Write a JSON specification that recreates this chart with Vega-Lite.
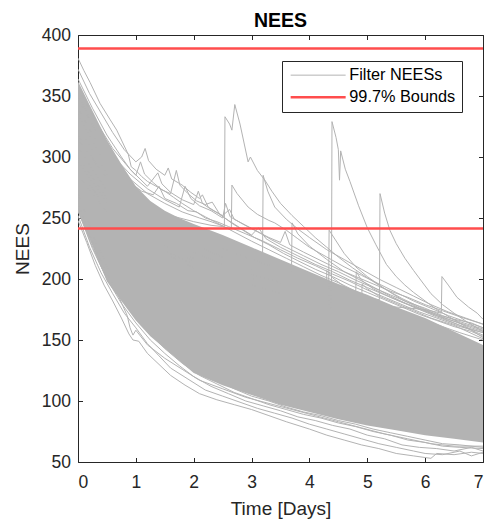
{
"$schema":"https://vega.github.io/schema/vega-lite/v6.json",
"width":405,"height":427,
"autosize":{"type":"none"},
"padding":{"left":78,"top":35,"right":3,"bottom":57},
"background":"white",
"title":{"text":"NEES","fontSize":19.5,"fontWeight":"bold","font":"Liberation Sans","color":"#000000","offset":-5,"frame":"group"},
"config":{"view":{"stroke":null},"font":"Liberation Sans",
 "axis":{"grid":false,"domainColor":"#262626","domainWidth":1,"tickColor":"#262626","tickWidth":1,"tickSize":-4.5,"labelFont":"Liberation Sans","labelFontSize":17.5,"labelColor":"#262626","titleFont":"Liberation Sans","titleFontSize":19,"titleFontWeight":"normal","titleColor":"#262626"}},
"datasets":{
"core":[
{"t":0,"lo":255,"hi":362},{"t":0.25,"lo":227,"hi":338},{"t":0.5,"lo":198,"hi":314},{"t":0.75,"lo":182,"hi":294},{"t":1,"lo":166,"hi":276},{"t":1.25,"lo":153,"hi":264},{"t":1.5,"lo":143,"hi":256},{"t":1.75,"lo":133,"hi":250},{"t":2,"lo":123,"hi":245},{"t":2.5,"lo":113,"hi":236},{"t":3,"lo":105,"hi":226},{"t":3.5,"lo":97,"hi":216},{"t":4,"lo":91,"hi":206},{"t":4.5,"lo":85,"hi":196},{"t":5,"lo":80,"hi":187},{"t":5.5,"lo":76,"hi":177},{"t":6,"lo":72,"hi":168},{"t":6.5,"lo":69,"hi":157},{"t":7,"lo":66,"hi":146}],
"bounds":[{"series":"99.7% Bounds","v":388.9},{"series":"99.7% Bounds","v":241.3}],
"runs":[
{"r":"U1","t":0,"v":381},{"r":"U1","t":0.1,"v":371},{"r":"U1","t":0.21,"v":361},{"r":"U1","t":0.38,"v":344},{"r":"U1","t":0.55,"v":331},{"r":"U1","t":0.67,"v":322},{"r":"U1","t":0.8,"v":309},{"r":"U1","t":0.87,"v":302},{"r":"U1","t":0.92,"v":292},{"r":"U1","t":1,"v":289},{"r":"U1","t":1.1,"v":284},{"r":"U1","t":1.2,"v":280},{"r":"U1","t":1.35,"v":276},{"r":"U1","t":1.5,"v":272},{"r":"U1","t":1.65,"v":267},{"r":"U1","t":1.8,"v":262},{"r":"U1","t":2,"v":256},{"r":"U1","t":2.2,"v":251},{"r":"U1","t":2.4,"v":246},{"r":"U1","t":2.6,"v":241},{"r":"U1","t":2.8,"v":236},{"r":"U1","t":3,"v":231},{"r":"U1","t":3.3,"v":224},{"r":"U1","t":3.6,"v":217},{"r":"U1","t":3.9,"v":210},{"r":"U1","t":4.2,"v":203},{"r":"U1","t":4.5,"v":197},{"r":"U1","t":4.8,"v":190},{"r":"U1","t":5.1,"v":184},{"r":"U1","t":5.4,"v":178},{"r":"U1","t":5.7,"v":172},{"r":"U1","t":6,"v":166},{"r":"U1","t":6.3,"v":161},{"r":"U1","t":6.6,"v":156},{"r":"U1","t":7,"v":150},
{"r":"U2","t":0,"v":372},{"r":"U2","t":0.2,"v":352},{"r":"U2","t":0.4,"v":336},{"r":"U2","t":0.6,"v":320},{"r":"U2","t":0.8,"v":306},{"r":"U2","t":1,"v":296},{"r":"U2","t":1.1,"v":300},{"r":"U2","t":1.16,"v":307},{"r":"U2","t":1.22,"v":297},{"r":"U2","t":1.35,"v":290},{"r":"U2","t":1.5,"v":285},{"r":"U2","t":1.56,"v":291},{"r":"U2","t":1.62,"v":282},{"r":"U2","t":1.8,"v":277},{"r":"U2","t":1.95,"v":271},{"r":"U2","t":2.1,"v":266},{"r":"U2","t":2.15,"v":269},{"r":"U2","t":2.25,"v":259},{"r":"U2","t":2.45,"v":253},{"r":"U2","t":2.65,"v":246},{"r":"U2","t":2.85,"v":240},{"r":"U2","t":3.05,"v":234},{"r":"U2","t":3.3,"v":228},{"r":"U2","t":3.55,"v":221},{"r":"U2","t":3.8,"v":215},{"r":"U2","t":4.1,"v":208},{"r":"U2","t":4.4,"v":202},{"r":"U2","t":4.7,"v":195},{"r":"U2","t":5,"v":189},{"r":"U2","t":5.3,"v":183},{"r":"U2","t":5.6,"v":177},{"r":"U2","t":5.9,"v":171},{"r":"U2","t":6.2,"v":166},{"r":"U2","t":6.5,"v":161},{"r":"U2","t":6.8,"v":157},{"r":"U2","t":7,"v":153},
{"r":"U3","t":0,"v":364},{"r":"U3","t":0.25,"v":340},{"r":"U3","t":0.5,"v":318},{"r":"U3","t":0.75,"v":300},{"r":"U3","t":0.9,"v":290},{"r":"U3","t":1,"v":285},{"r":"U3","t":1.08,"v":296},{"r":"U3","t":1.15,"v":286},{"r":"U3","t":1.3,"v":279},{"r":"U3","t":1.45,"v":273},{"r":"U3","t":1.6,"v":270},{"r":"U3","t":1.7,"v":289},{"r":"U3","t":1.76,"v":277},{"r":"U3","t":1.9,"v":270},{"r":"U3","t":2.05,"v":264},{"r":"U3","t":2.2,"v":261},{"r":"U3","t":2.32,"v":263},{"r":"U3","t":2.45,"v":253},{"r":"U3","t":2.6,"v":248},{"r":"U3","t":2.8,"v":242},{"r":"U3","t":3,"v":236},{"r":"U3","t":3.12,"v":242},{"r":"U3","t":3.25,"v":233},{"r":"U3","t":3.5,"v":226},{"r":"U3","t":3.8,"v":219},{"r":"U3","t":4.1,"v":212},{"r":"U3","t":4.4,"v":206},{"r":"U3","t":4.7,"v":199},{"r":"U3","t":5,"v":193},{"r":"U3","t":5.3,"v":187},{"r":"U3","t":5.6,"v":181},{"r":"U3","t":5.9,"v":176},{"r":"U3","t":6.2,"v":171},{"r":"U3","t":6.5,"v":167},{"r":"U3","t":6.8,"v":164},{"r":"U3","t":7,"v":160},
{"r":"U4","t":0,"v":356},{"r":"U4","t":0.3,"v":330},{"r":"U4","t":0.6,"v":307},{"r":"U4","t":0.9,"v":290},{"r":"U4","t":1.2,"v":276},{"r":"U4","t":1.38,"v":287},{"r":"U4","t":1.45,"v":278},{"r":"U4","t":1.6,"v":271},{"r":"U4","t":1.8,"v":265},{"r":"U4","t":2,"v":261},{"r":"U4","t":2.08,"v":272},{"r":"U4","t":2.15,"v":262},{"r":"U4","t":2.3,"v":257},{"r":"U4","t":2.5,"v":252},{"r":"U4","t":2.62,"v":257},{"r":"U4","t":2.7,"v":249},{"r":"U4","t":2.9,"v":244},{"r":"U4","t":3.1,"v":239},{"r":"U4","t":3.35,"v":232},{"r":"U4","t":3.6,"v":226},{"r":"U4","t":3.9,"v":219},{"r":"U4","t":4.2,"v":212},{"r":"U4","t":4.5,"v":206},{"r":"U4","t":4.8,"v":199},{"r":"U4","t":5.1,"v":193},{"r":"U4","t":5.4,"v":187},{"r":"U4","t":5.7,"v":181},{"r":"U4","t":6,"v":176},{"r":"U4","t":6.3,"v":170},{"r":"U4","t":6.6,"v":165},{"r":"U4","t":7,"v":159},
{"r":"U5","t":0,"v":348},{"r":"U5","t":0.3,"v":322},{"r":"U5","t":0.6,"v":301},{"r":"U5","t":0.9,"v":286},{"r":"U5","t":1.2,"v":274},{"r":"U5","t":1.5,"v":265},{"r":"U5","t":1.75,"v":259},{"r":"U5","t":1.85,"v":276},{"r":"U5","t":1.95,"v":266},{"r":"U5","t":2.1,"v":260},{"r":"U5","t":2.3,"v":256},{"r":"U5","t":2.5,"v":250},{"r":"U5","t":2.55,"v":262},{"r":"U5","t":2.63,"v":251},{"r":"U5","t":2.85,"v":245},{"r":"U5","t":3.05,"v":240},{"r":"U5","t":3.3,"v":234},{"r":"U5","t":3.5,"v":230},{"r":"U5","t":3.58,"v":239},{"r":"U5","t":3.66,"v":228},{"r":"U5","t":3.9,"v":222},{"r":"U5","t":4.2,"v":215},{"r":"U5","t":4.5,"v":208},{"r":"U5","t":4.8,"v":202},{"r":"U5","t":5.1,"v":196},{"r":"U5","t":5.4,"v":190},{"r":"U5","t":5.7,"v":185},{"r":"U5","t":6,"v":179},{"r":"U5","t":6.3,"v":174},{"r":"U5","t":6.6,"v":169},{"r":"U5","t":7,"v":163},
{"r":"U6","t":0,"v":340},{"r":"U6","t":0.3,"v":314},{"r":"U6","t":0.6,"v":293},{"r":"U6","t":0.9,"v":279},{"r":"U6","t":1.1,"v":272},{"r":"U6","t":1.3,"v":269},{"r":"U6","t":1.4,"v":276},{"r":"U6","t":1.5,"v":266},{"r":"U6","t":1.7,"v":262},{"r":"U6","t":1.9,"v":256},{"r":"U6","t":2.05,"v":255},{"r":"U6","t":2.2,"v":250},{"r":"U6","t":2.4,"v":247},{"r":"U6","t":2.6,"v":243},{"r":"U6","t":2.9,"v":237},{"r":"U6","t":3.2,"v":231},{"r":"U6","t":3.5,"v":224},{"r":"U6","t":3.8,"v":217},{"r":"U6","t":4.1,"v":211},{"r":"U6","t":4.4,"v":204},{"r":"U6","t":4.7,"v":198},{"r":"U6","t":5,"v":191},{"r":"U6","t":5.3,"v":185},{"r":"U6","t":5.6,"v":179},{"r":"U6","t":5.9,"v":173},{"r":"U6","t":6.2,"v":168},{"r":"U6","t":6.6,"v":161},{"r":"U6","t":7,"v":156},
{"r":"SA","t":0,"v":352},{"r":"SA","t":0.3,"v":322},{"r":"SA","t":0.6,"v":299},{"r":"SA","t":0.9,"v":282},{"r":"SA","t":1.2,"v":270},{"r":"SA","t":1.5,"v":262},{"r":"SA","t":1.8,"v":255},{"r":"SA","t":2.1,"v":250},{"r":"SA","t":2.3,"v":247},{"r":"SA","t":2.53,"v":243},{"r":"SA","t":2.54,"v":333},{"r":"SA","t":2.62,"v":327},{"r":"SA","t":2.66,"v":322},{"r":"SA","t":2.71,"v":343},{"r":"SA","t":2.8,"v":327},{"r":"SA","t":2.94,"v":296},{"r":"SA","t":2.98,"v":300},{"r":"SA","t":3.1,"v":289},{"r":"SA","t":3.23,"v":281},{"r":"SA","t":3.35,"v":272},{"r":"SA","t":3.5,"v":262},{"r":"SA","t":3.7,"v":252},{"r":"SA","t":3.9,"v":243},{"r":"SA","t":4.1,"v":234},{"r":"SA","t":4.3,"v":226},{"r":"SA","t":4.5,"v":218},{"r":"SA","t":4.75,"v":209},{"r":"SA","t":5,"v":201},{"r":"SA","t":5.3,"v":192},{"r":"SA","t":5.6,"v":184},{"r":"SA","t":6,"v":175},{"r":"SA","t":6.4,"v":167},{"r":"SA","t":6.8,"v":160},{"r":"SA","t":7,"v":157},
{"r":"SB","t":0,"v":335},{"r":"SB","t":0.4,"v":300},{"r":"SB","t":0.8,"v":277},{"r":"SB","t":1.2,"v":262},{"r":"SB","t":1.6,"v":252},{"r":"SB","t":2,"v":247},{"r":"SB","t":2.3,"v":244},{"r":"SB","t":2.5,"v":243},{"r":"SB","t":2.65,"v":241},{"r":"SB","t":2.66,"v":277},{"r":"SB","t":2.75,"v":270},{"r":"SB","t":2.94,"v":259},{"r":"SB","t":3.1,"v":253},{"r":"SB","t":3.3,"v":248},{"r":"SB","t":3.4,"v":246},{"r":"SB","t":3.6,"v":240},{"r":"SB","t":3.8,"v":233},{"r":"SB","t":4,"v":226},{"r":"SB","t":4.3,"v":218},{"r":"SB","t":4.6,"v":210},{"r":"SB","t":4.9,"v":203},{"r":"SB","t":5.2,"v":196},{"r":"SB","t":5.5,"v":189},{"r":"SB","t":5.8,"v":182},{"r":"SB","t":6.1,"v":176},{"r":"SB","t":6.4,"v":170},{"r":"SB","t":6.7,"v":165},{"r":"SB","t":7,"v":160},
{"r":"SC","t":0,"v":325},{"r":"SC","t":0.5,"v":286},{"r":"SC","t":1,"v":262},{"r":"SC","t":1.5,"v":246},{"r":"SC","t":2,"v":237},{"r":"SC","t":2.5,"v":229},{"r":"SC","t":2.9,"v":223},{"r":"SC","t":3.19,"v":221},{"r":"SC","t":3.2,"v":285},{"r":"SC","t":3.28,"v":272},{"r":"SC","t":3.4,"v":259},{"r":"SC","t":3.6,"v":249},{"r":"SC","t":3.8,"v":241},{"r":"SC","t":4,"v":234},{"r":"SC","t":4.3,"v":224},{"r":"SC","t":4.6,"v":216},{"r":"SC","t":4.9,"v":208},{"r":"SC","t":5.2,"v":200},{"r":"SC","t":5.5,"v":193},{"r":"SC","t":5.8,"v":186},{"r":"SC","t":6.1,"v":179},{"r":"SC","t":6.4,"v":173},{"r":"SC","t":6.7,"v":168},{"r":"SC","t":7,"v":163},
{"r":"SD","t":0,"v":318},{"r":"SD","t":0.5,"v":280},{"r":"SD","t":1,"v":256},{"r":"SD","t":1.5,"v":240},{"r":"SD","t":2,"v":228},{"r":"SD","t":2.5,"v":218},{"r":"SD","t":3,"v":208},{"r":"SD","t":3.5,"v":198},{"r":"SD","t":4,"v":188},{"r":"SD","t":4.2,"v":182},{"r":"SD","t":4.38,"v":176},{"r":"SD","t":4.39,"v":329},{"r":"SD","t":4.46,"v":316},{"r":"SD","t":4.5,"v":306},{"r":"SD","t":4.52,"v":281},{"r":"SD","t":4.54,"v":305},{"r":"SD","t":4.62,"v":290},{"r":"SD","t":4.7,"v":280},{"r":"SD","t":4.85,"v":260},{"r":"SD","t":5,"v":242},{"r":"SD","t":5.15,"v":228},{"r":"SD","t":5.33,"v":212},{"r":"SD","t":5.5,"v":202},{"r":"SD","t":5.65,"v":195},{"r":"SD","t":5.8,"v":189},{"r":"SD","t":6,"v":182},{"r":"SD","t":6.2,"v":175},{"r":"SD","t":6.45,"v":168},{"r":"SD","t":6.7,"v":161},{"r":"SD","t":7,"v":152},
{"r":"SE","t":0,"v":300},{"r":"SE","t":0.5,"v":266},{"r":"SE","t":1,"v":244},{"r":"SE","t":1.5,"v":229},{"r":"SE","t":2,"v":217},{"r":"SE","t":2.5,"v":208},{"r":"SE","t":3,"v":200},{"r":"SE","t":3.5,"v":194},{"r":"SE","t":4,"v":190},{"r":"SE","t":4.5,"v":187},{"r":"SE","t":4.9,"v":185},{"r":"SE","t":5.21,"v":183},{"r":"SE","t":5.22,"v":270},{"r":"SE","t":5.3,"v":254},{"r":"SE","t":5.39,"v":240},{"r":"SE","t":5.5,"v":229},{"r":"SE","t":5.65,"v":217},{"r":"SE","t":5.8,"v":207},{"r":"SE","t":5.91,"v":200},{"r":"SE","t":6.1,"v":188},{"r":"SE","t":6.3,"v":179},{"r":"SE","t":6.5,"v":172},{"r":"SE","t":6.75,"v":164},{"r":"SE","t":7,"v":157},
{"r":"SF","t":0,"v":308},{"r":"SF","t":0.5,"v":272},{"r":"SF","t":1,"v":250},{"r":"SF","t":1.5,"v":234},{"r":"SF","t":2,"v":222},{"r":"SF","t":2.5,"v":212},{"r":"SF","t":3,"v":204},{"r":"SF","t":3.5,"v":197},{"r":"SF","t":4,"v":191},{"r":"SF","t":4.5,"v":185},{"r":"SF","t":5,"v":180},{"r":"SF","t":5.5,"v":177},{"r":"SF","t":6,"v":175},{"r":"SF","t":6.28,"v":172},{"r":"SF","t":6.29,"v":202},{"r":"SF","t":6.4,"v":195},{"r":"SF","t":6.55,"v":185},{"r":"SF","t":6.75,"v":177},{"r":"SF","t":6.9,"v":172},{"r":"SF","t":7,"v":167},
{"r":"SG","t":0,"v":296},{"r":"SG","t":0.5,"v":263},{"r":"SG","t":1,"v":242},{"r":"SG","t":1.5,"v":227},{"r":"SG","t":2,"v":215},{"r":"SG","t":2.5,"v":205},{"r":"SG","t":3,"v":197},{"r":"SG","t":3.5,"v":189},{"r":"SG","t":4,"v":182},{"r":"SG","t":4.33,"v":177},{"r":"SG","t":4.34,"v":240},{"r":"SG","t":4.45,"v":232},{"r":"SG","t":4.6,"v":221},{"r":"SG","t":4.8,"v":210},{"r":"SG","t":5,"v":202},{"r":"SG","t":5.3,"v":192},{"r":"SG","t":5.6,"v":183},{"r":"SG","t":6,"v":174},{"r":"SG","t":6.4,"v":166},{"r":"SG","t":6.8,"v":158},{"r":"SG","t":7,"v":154},
{"r":"SH","t":0,"v":314},{"r":"SH","t":0.5,"v":283},{"r":"SH","t":1,"v":262},{"r":"SH","t":1.5,"v":247},{"r":"SH","t":2,"v":235},{"r":"SH","t":2.5,"v":225},{"r":"SH","t":3,"v":216},{"r":"SH","t":3.4,"v":210},{"r":"SH","t":3.69,"v":206},{"r":"SH","t":3.7,"v":246},{"r":"SH","t":3.8,"v":237},{"r":"SH","t":4,"v":227},{"r":"SH","t":4.3,"v":216},{"r":"SH","t":4.6,"v":206},{"r":"SH","t":5,"v":196},{"r":"SH","t":5.4,"v":186},{"r":"SH","t":5.8,"v":177},{"r":"SH","t":6.2,"v":169},{"r":"SH","t":6.6,"v":162},{"r":"SH","t":7,"v":156},
{"r":"SI","t":0,"v":290},{"r":"SI","t":0.5,"v":258},{"r":"SI","t":1,"v":238},{"r":"SI","t":1.5,"v":223},{"r":"SI","t":2,"v":212},{"r":"SI","t":2.5,"v":203},{"r":"SI","t":3,"v":195},{"r":"SI","t":3.5,"v":188},{"r":"SI","t":4,"v":183},{"r":"SI","t":4.29,"v":181},{"r":"SI","t":4.3,"v":207},{"r":"SI","t":4.4,"v":201},{"r":"SI","t":4.6,"v":194},{"r":"SI","t":4.8,"v":189},{"r":"SI","t":4.81,"v":206},{"r":"SI","t":4.9,"v":199},{"r":"SI","t":5.1,"v":192},{"r":"SI","t":5.4,"v":185},{"r":"SI","t":5.8,"v":177},{"r":"SI","t":6.2,"v":170},{"r":"SI","t":6.6,"v":164},{"r":"SI","t":7,"v":158},
{"r":"SJ","t":0,"v":285},{"r":"SJ","t":0.5,"v":255},{"r":"SJ","t":1,"v":236},{"r":"SJ","t":1.5,"v":221},{"r":"SJ","t":2,"v":209},{"r":"SJ","t":2.5,"v":199},{"r":"SJ","t":3,"v":191},{"r":"SJ","t":3.5,"v":185},{"r":"SJ","t":4,"v":179},{"r":"SJ","t":4.5,"v":175},{"r":"SJ","t":4.9,"v":172},{"r":"SJ","t":4.91,"v":196},{"r":"SJ","t":5,"v":192},{"r":"SJ","t":5.2,"v":186},{"r":"SJ","t":5.5,"v":180},{"r":"SJ","t":5.8,"v":174},{"r":"SJ","t":6.1,"v":168},{"r":"SJ","t":6.5,"v":162},{"r":"SJ","t":7,"v":151},
{"r":"L1","t":0,"v":248},{"r":"L1","t":0.15,"v":230},{"r":"L1","t":0.3,"v":211},{"r":"L1","t":0.45,"v":195},{"r":"L1","t":0.6,"v":182},{"r":"L1","t":0.75,"v":168},{"r":"L1","t":0.88,"v":155},{"r":"L1","t":0.95,"v":150},{"r":"L1","t":1.05,"v":149},{"r":"L1","t":1.2,"v":139},{"r":"L1","t":1.4,"v":130},{"r":"L1","t":1.6,"v":121},{"r":"L1","t":1.85,"v":113},{"r":"L1","t":2.1,"v":106},{"r":"L1","t":2.4,"v":101},{"r":"L1","t":2.7,"v":97},{"r":"L1","t":3,"v":93},{"r":"L1","t":3.3,"v":88},{"r":"L1","t":3.6,"v":83},{"r":"L1","t":4,"v":77},{"r":"L1","t":4.3,"v":72},{"r":"L1","t":4.6,"v":68},{"r":"L1","t":4.9,"v":64},{"r":"L1","t":5.2,"v":61},{"r":"L1","t":5.5,"v":57},{"r":"L1","t":5.8,"v":55},{"r":"L1","t":6.1,"v":53},{"r":"L1","t":6.2,"v":57},{"r":"L1","t":6.5,"v":56},{"r":"L1","t":6.8,"v":58},{"r":"L1","t":7,"v":57},
{"r":"L2","t":0,"v":252},{"r":"L2","t":0.2,"v":226},{"r":"L2","t":0.4,"v":205},{"r":"L2","t":0.6,"v":188},{"r":"L2","t":0.8,"v":172},{"r":"L2","t":1,"v":160},{"r":"L2","t":1.2,"v":147},{"r":"L2","t":1.4,"v":137},{"r":"L2","t":1.6,"v":127},{"r":"L2","t":1.9,"v":118},{"r":"L2","t":2.2,"v":109},{"r":"L2","t":2.5,"v":104},{"r":"L2","t":2.8,"v":99},{"r":"L2","t":3.1,"v":94},{"r":"L2","t":3.4,"v":90},{"r":"L2","t":3.7,"v":86},{"r":"L2","t":4,"v":81},{"r":"L2","t":4.3,"v":77},{"r":"L2","t":4.6,"v":73},{"r":"L2","t":4.9,"v":69},{"r":"L2","t":5.2,"v":65},{"r":"L2","t":5.5,"v":62},{"r":"L2","t":5.8,"v":59},{"r":"L2","t":6,"v":57},{"r":"L2","t":6.3,"v":56},{"r":"L2","t":6.6,"v":59},{"r":"L2","t":6.8,"v":55},{"r":"L2","t":7,"v":58},
{"r":"L3","t":0,"v":256},{"r":"L3","t":0.25,"v":225},{"r":"L3","t":0.5,"v":200},{"r":"L3","t":0.75,"v":180},{"r":"L3","t":1,"v":164},{"r":"L3","t":1.25,"v":150},{"r":"L3","t":1.5,"v":139},{"r":"L3","t":1.75,"v":129},{"r":"L3","t":2,"v":120},{"r":"L3","t":2.3,"v":112},{"r":"L3","t":2.6,"v":106},{"r":"L3","t":2.9,"v":100},{"r":"L3","t":3.2,"v":96},{"r":"L3","t":3.5,"v":92},{"r":"L3","t":3.8,"v":87},{"r":"L3","t":4.1,"v":84},{"r":"L3","t":4.4,"v":80},{"r":"L3","t":4.7,"v":77},{"r":"L3","t":5,"v":72},{"r":"L3","t":5.3,"v":69},{"r":"L3","t":5.6,"v":64},{"r":"L3","t":5.9,"v":62},{"r":"L3","t":6.2,"v":61},{"r":"L3","t":6.5,"v":59},{"r":"L3","t":6.8,"v":62},{"r":"L3","t":7,"v":59},
{"r":"L4","t":0,"v":262},{"r":"L4","t":0.3,"v":224},{"r":"L4","t":0.6,"v":196},{"r":"L4","t":0.9,"v":175},{"r":"L4","t":1.2,"v":157},{"r":"L4","t":1.5,"v":143},{"r":"L4","t":1.8,"v":131},{"r":"L4","t":2.1,"v":121},{"r":"L4","t":2.4,"v":114},{"r":"L4","t":2.7,"v":107},{"r":"L4","t":3,"v":102},{"r":"L4","t":3.3,"v":97},{"r":"L4","t":3.6,"v":93},{"r":"L4","t":3.9,"v":89},{"r":"L4","t":4.2,"v":86},{"r":"L4","t":4.5,"v":82},{"r":"L4","t":4.8,"v":79},{"r":"L4","t":5.1,"v":75},{"r":"L4","t":5.4,"v":72},{"r":"L4","t":5.7,"v":68},{"r":"L4","t":6,"v":66},{"r":"L4","t":6.3,"v":63},{"r":"L4","t":6.6,"v":62},{"r":"L4","t":7,"v":61},
{"r":"L5","t":0,"v":270},{"r":"L5","t":0.3,"v":231},{"r":"L5","t":0.6,"v":201},{"r":"L5","t":0.9,"v":180},{"r":"L5","t":1.2,"v":162},{"r":"L5","t":1.5,"v":147},{"r":"L5","t":1.8,"v":135},{"r":"L5","t":2.1,"v":125},{"r":"L5","t":2.4,"v":117},{"r":"L5","t":2.7,"v":110},{"r":"L5","t":3,"v":104},{"r":"L5","t":3.3,"v":100},{"r":"L5","t":3.6,"v":95},{"r":"L5","t":3.9,"v":91},{"r":"L5","t":4.2,"v":88},{"r":"L5","t":4.5,"v":84},{"r":"L5","t":4.8,"v":81},{"r":"L5","t":5.1,"v":77},{"r":"L5","t":5.4,"v":74},{"r":"L5","t":5.7,"v":71},{"r":"L5","t":6,"v":68},{"r":"L5","t":6.3,"v":65},{"r":"L5","t":6.6,"v":64},{"r":"L5","t":7,"v":62},
{"r":"L6","t":0,"v":258},{"r":"L6","t":0.2,"v":232},{"r":"L6","t":0.4,"v":210},{"r":"L6","t":0.55,"v":196},{"r":"L6","t":0.7,"v":186},{"r":"L6","t":0.85,"v":170},{"r":"L6","t":0.9,"v":160},{"r":"L6","t":0.95,"v":154},{"r":"L6","t":1,"v":158},{"r":"L6","t":1.2,"v":146},{"r":"L6","t":1.5,"v":135},{"r":"L6","t":1.8,"v":126},{"r":"L6","t":2.1,"v":117},{"r":"L6","t":2.5,"v":110},{"r":"L6","t":2.9,"v":103},{"r":"L6","t":3.3,"v":98},{"r":"L6","t":3.7,"v":93},{"r":"L6","t":4.1,"v":88},{"r":"L6","t":4.5,"v":83},{"r":"L6","t":4.9,"v":78},{"r":"L6","t":5.3,"v":73},{"r":"L6","t":5.7,"v":69},{"r":"L6","t":6.1,"v":65},{"r":"L6","t":6.5,"v":63},{"r":"L6","t":7,"v":63}
]},
"layer":[
{"data":{"name":"core"},"mark":{"type":"area","color":"#b3b3b3","clip":true},
 "encoding":{
  "x":{"field":"t","type":"quantitative","scale":{"domain":[0,7],"nice":false,"zero":false},"axis":{"orient":"bottom","values":[0,1,2,3,4,5,6,7],"title":"Time [Days]","labelPadding":16,"titlePadding":8}},
  "y":{"field":"lo","type":"quantitative","scale":{"domain":[50,400],"nice":false,"zero":false},"axis":{"orient":"left","values":[50,100,150,200,250,300,350,400],"title":"NEES","labelPadding":12,"titlePadding":9}},
  "y2":{"field":"hi"}}},
{"data":{"name":"runs"},"mark":{"type":"line","clip":true,"strokeJoin":"round"},
 "encoding":{
  "x":{"field":"t","type":"quantitative","axis":{"orient":"top","values":[0,1,2,3,4,5,6,7],"labels":false,"title":null}},
  "y":{"field":"v","type":"quantitative","axis":{"orient":"right","values":[50,100,150,200,250,300,350,400],"labels":false,"title":null}},
  "detail":{"field":"r","type":"nominal"},
  "color":{"datum":"Filter NEESs","type":"nominal","scale":{"domain":["Filter NEESs","99.7% Bounds"],"range":["#b3b3b3","#ff4d4d"]},
   "legend":{"orient":"none","legendX":204,"legendY":26,"title":null,"symbolType":"M-1,0H9","symbolSize":121,"labelFontSize":16.3,"labelFont":"Liberation Sans","labelColor":"#000000","fillColor":"#ffffff","strokeColor":"#262626","padding":6,"rowPadding":5,"labelOffset":45}},
  "strokeWidth":{"datum":"Filter NEESs","type":"ordinal","scale":{"domain":["Filter NEESs","99.7% Bounds"],"range":[1,2.5]},"legend":null}}},
{"data":{"name":"bounds"},"mark":{"type":"rule"},
 "encoding":{
  "y":{"field":"v","type":"quantitative","axis":null},
  "color":{"field":"series","type":"nominal","legend":{"orient":"none","legendX":204,"legendY":26,"title":null,"symbolType":"M-1,0H9","symbolSize":121,"labelFontSize":16.3,"labelFont":"Liberation Sans","labelColor":"#000000","fillColor":"#ffffff","strokeColor":"#262626","padding":6,"rowPadding":5,"labelOffset":45}},
  "strokeWidth":{"field":"series","type":"ordinal","legend":null}}}
],
"resolve":{"axis":{"x":"independent","y":"independent"}}
}
